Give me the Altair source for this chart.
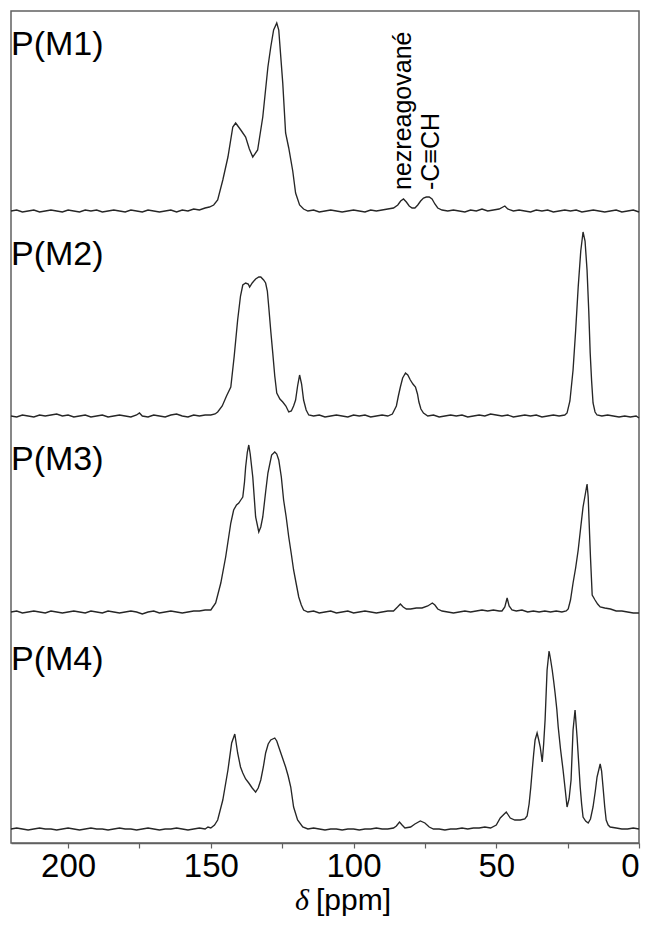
import altair as alt
import pandas as pd

# ---------------- data ----------------
NAMES = ["P(M1)", "P(M2)", "P(M3)", "P(M4)"]
OFFSETS = [632, 427, 231, 14]          # vertical stacking offset of each trace
LABEL_Y = [788, 578, 373, 173]         # baseline height of each trace label
X_TICKS = [0, 25, 50, 75, 100, 125, 150, 175, 200]

ANNOT_TEXT = ["nezreagované", "-C≡CH"]
ANNOT_PPM = [82.8, 72.7]
ANNOT_Y = [653, 653]

# (ppm, intensity above own baseline)
M1 = [
    (220, 0), (218, 1), (216, -1), (214, 0), (212, 1), (210, -1), (208, 0), (206, 1),
    (204, 0), (202, -1), (200, 1), (198, 0), (196, -1), (194, 1), (192, 0), (190, 1),
    (188, -1), (186, 0), (184, 1), (182, 0), (180, -1), (178, 1), (176, 0), (174, -1),
    (172, 1), (170, 0), (168, -1), (166, 0), (164, 1), (162, -1), (160, 1), (158, 0),
    (156, 2), (154, 1), (152, 3), (150.5, 4),
    (149, 6), (147.6, 11), (145.8, 31), (144, 54), (142.3, 84), (141.3, 88), (139.5, 81),
    (137.8, 74), (136.5, 62), (135.3, 54), (133.6, 61), (131.8, 94), (130, 144), (129, 164),
    (128, 181), (126.9, 188), (126.2, 181), (124.8, 128), (123.8, 78), (122.7, 63),
    (121.3, 40), (120.3, 18), (118.9, 6), (117.5, 2),
    (116, 0), (114, 1), (112, -1), (110, 0), (108, 1), (106, 0), (104, -1), (102, 0),
    (100, 1), (98, 0), (96, -1), (94, 1), (92, 0), (90, 1), (88, 2), (86, 3), (84.5, 6),
    (83.5, 10), (82.5, 12), (81.5, 9), (80.5, 5), (79.5, 3), (78.5, 3), (77.5, 6),
    (76.5, 10), (75.5, 13), (74.5, 14), (73.5, 14), (72.5, 12), (71.5, 7), (70.5, 3),
    (69, 1), (67, 0), (65, 1), (63, 0), (61, -1), (59, 1), (57, 0), (55, 2), (53, 0),
    (51, 1), (49, 2), (47, 5), (46, 2), (44, 0), (42, 1), (40, 0), (38, -1), (36, 1),
    (34, 0), (32, 1), (30, -1), (28, 0), (26, 1), (24, 0), (22, 1), (20, -1), (18, 0),
    (16, 1), (14, 0), (12, -1), (10, 0), (8, 1), (6, -1), (4, 0), (2, 1), (0, -1),
]

M2 = [
    (220, 0), (218, -1), (216, 1), (214, 0), (212, -1), (210, 1), (208, 0), (206, 1),
    (204, 2), (202, 0), (200, 1), (198, -1), (196, 0), (194, 1), (192, -1), (190, 0),
    (188, 1), (186, -1), (184, 0), (182, 1), (180, 0), (178, -1), (176, 1), (175, 3),
    (174, 0), (172, -1), (170, 1), (168, 0), (166, -1), (164, 1), (162, 2), (160, 0),
    (158, -1), (156, 1), (154, 0), (152, 1), (150, 1),
    (148.5, 2), (147.6, 4), (146, 10), (144.5, 20), (143, 29), (141.8, 60), (140.6, 96),
    (139.6, 120), (138.8, 131), (137.8, 133), (136.9, 132), (136.4, 129), (135.5, 133),
    (134.3, 137), (133.2, 139), (132.5, 139), (131.5, 136), (130.8, 133), (130.2, 125),
    (129.7, 109), (129, 85), (128.3, 63), (127.6, 40), (126.9, 23), (125.8, 17),
    (124.8, 14), (123.7, 10), (122.7, 4), (121.8, 5), (121, 10), (120.3, 16), (119.6, 30),
    (118.9, 41), (118.2, 32), (117.5, 16), (116.6, 6), (115.7, 1),
    (114, 0), (112, 1), (110, -1), (108, 0), (106, 1), (104, 0), (102, -1), (100, 1),
    (98, 0), (96, 1), (94, -1), (92, 0), (90, 1), (88, 0),
    (86.4, 2), (85, 10), (84.3, 20), (83.6, 29), (82.8, 38), (81.8, 43), (81, 41),
    (80.1, 36), (79.2, 32), (78.3, 29), (77.6, 22), (77.1, 14), (76.4, 7), (75.5, 3),
    (74, 0), (72, 1), (70, -1), (68, 0), (66, 1), (64, 0), (62, 1), (60, -1), (58, 0),
    (56, 1), (54, 0), (52, 2), (50, 1), (48, 0), (46, 1), (44, -1), (42, 0), (40, 1),
    (38, 0), (36, 1), (34, -1), (32, 0), (30, 1), (28, 0), (26, 1),
    (25.2, 3), (24.2, 15), (23.1, 46), (22.2, 85), (21.3, 129), (20.4, 165), (19.6, 184),
    (18.9, 175), (18.2, 146), (17.6, 105), (17.1, 63), (16.6, 35), (16.1, 13), (15.4, 4),
    (14.7, 1), (13, 0), (11, 1), (9, 0), (7, -1), (5, 0), (3, -1), (1, 0), (0, -2),
]

M3 = [
    (220, 0), (218, 1), (216, -1), (214, 0), (212, 1), (210, 0), (208, -1), (206, 1),
    (204, 0), (202, -1), (200, 0), (198, 1), (196, 0), (194, -1), (192, 1), (190, 0),
    (188, -1), (186, 1), (184, 0), (182, -1), (180, 0), (178, 1), (176, 0), (174, -2),
    (172, 0), (170, 1), (168, -1), (166, 0), (164, 1), (162, 0), (160, -1), (158, 0),
    (156, 1), (154, 1), (152, 2),
    (150, 2), (148.3, 9), (146.5, 29), (144.8, 55), (143, 89), (142, 102), (141, 107),
    (140.2, 109), (139.5, 112), (138.8, 115), (138.2, 130), (137.8, 145), (137.2, 160),
    (136.7, 167), (136.2, 158), (135.3, 135), (134.3, 95), (133.2, 80), (132.5, 85),
    (131.8, 95), (130.8, 120), (130, 139), (128.7, 157), (127.6, 160), (126.9, 158),
    (126.2, 152), (125.3, 135), (124.5, 112), (123.6, 95), (122.7, 75), (121.8, 58),
    (121, 42), (120, 27), (119.2, 15), (118.3, 7), (117.5, 2),
    (116, 0), (114, 1), (112, -1), (110, 0), (108, 1), (106, -1), (104, 0), (102, 1),
    (100, -1), (98, 0), (96, 1), (94, 0), (92, -1), (90, 0), (88, 1), (86, 1),
    (84.6, 5), (83.6, 8), (82.6, 5), (81.5, 3), (80, 3), (78, 4), (76, 4), (74, 6),
    (72.4, 9), (71.5, 7), (70.5, 3), (69, 1), (67, 0), (65, -1), (63, 0), (61, 1),
    (59, 0), (57, 1), (55, 2), (53, 1), (51, 2), (49, 1), (48, 1), (47, 5), (46.2, 14),
    (45.5, 6), (44.5, 2), (43, 1), (41, 2), (39, 0), (37, 1), (35, 0), (33, 1), (31, 0),
    (29, 1), (27, 0), (25.5, 1),
    (24.8, 3), (24, 12), (23.1, 29), (22.2, 44), (21.3, 62), (20.4, 85), (19.6, 105),
    (18.8, 118), (18.2, 128), (17.8, 115), (17.5, 92), (17, 55), (16.4, 17), (15.4, 12),
    (14.5, 8), (13.6, 5), (12, 4), (10, 3), (8, 1), (6, 1), (4, 0), (2, -1), (0, -1),
]

M4 = [
    (220, 0), (218, 1), (216, 0), (214, -1), (212, 0), (210, 1), (208, 0), (206, 0),
    (204, -1), (202, 0), (200, 1), (198, 0), (196, -1), (194, 0), (192, 1), (190, 0),
    (188, 0), (186, -1), (184, 0), (182, 1), (180, 0), (178, 0), (176, -1), (174, 0),
    (172, 1), (170, 0), (168, -1), (166, 0), (164, 0), (162, 1), (160, 0), (158, -1),
    (156, 0), (154, 1), (152, 0),
    (151, 2), (150, 1), (148.7, 4), (147.6, 9), (145.8, 29), (144, 59), (142.7, 86),
    (141.6, 95), (140.6, 76), (139.6, 62), (138.8, 56), (137.8, 50), (136.7, 46),
    (135.5, 41), (134.3, 37), (133.4, 41), (132.5, 49), (131.6, 62), (130.8, 76),
    (129.9, 85), (129, 89), (127.6, 91), (126.9, 88), (126.2, 82), (125, 72), (123.8, 62),
    (122.9, 53), (122, 42), (121, 22), (119.6, 9), (117.8, 2), (116, 0),
    (114, 1), (112, 0), (110, -1), (108, 0), (106, 0), (104, -1), (102, 0), (100, 0),
    (98, -1), (96, 0), (94, 0), (92, 1), (90, 0), (88, 0), (86, 1),
    (85, 3), (83.9, 7), (83, 4), (82, 1), (80, 2), (78.5, 5), (76.6, 8), (75, 6),
    (73.5, 2), (72, 0), (70, 0), (68, -1), (66, 0), (64, 0), (62, 1), (60, 0), (58, 1),
    (56, 1), (54, 2), (52, 1), (50, 4), (48.6, 11), (47.2, 15), (46.5, 17), (45.8, 14),
    (45.1, 11), (43.5, 9), (41.6, 9), (40, 10), (39.2, 13), (38.5, 25), (37.9, 42),
    (37.4, 59), (36.9, 75), (36.4, 89), (35.7, 96), (35.2, 90), (34.6, 82), (33.9, 67),
    (33.4, 85), (32.9, 109), (32.2, 159), (31.5, 178), (31, 170), (30.4, 159),
    (29.9, 148), (29.4, 136), (28.8, 120), (28.3, 102), (27.5, 80), (26.6, 59),
    (25.8, 38), (25.2, 22), (24.5, 30), (23.8, 49), (23.1, 99), (22.4, 119), (21.7, 92),
    (21.1, 65), (20.6, 42), (20.1, 25), (19.6, 12), (18.7, 8), (17.8, 6), (17, 10),
    (16.1, 22), (15.3, 38), (14.7, 52), (13.6, 65), (13.1, 58), (12.6, 42), (12, 22),
    (11.5, 9), (10.8, 4), (10.1, 2), (8, 1), (6, 0), (4, 0), (2, 1), (0, 0),
]

SPECTRA = [M1, M2, M3, M4]

# ---------------- tables ----------------
rows = []
for name, off, spec in zip(NAMES, OFFSETS, SPECTRA):
    for i, (p, v) in enumerate(spec):
        rows.append({"series": name, "ppm": p, "y": off + v, "order": i})
df = pd.DataFrame(rows)

lab_df = pd.DataFrame({"name": NAMES, "ppm": [220] * len(NAMES), "y": LABEL_Y})
ann_df = pd.DataFrame({"text": ANNOT_TEXT, "ppm": ANNOT_PPM, "y": ANNOT_Y})
one = pd.DataFrame({"k": [0]})

FRAME = "#606060"
x_scale = alt.Scale(domain=[0, 220], reverse=True, nice=False, zero=False)
y_scale = alt.Scale(domain=[0, 832], nice=False, zero=False)

lines = alt.Chart(df).mark_line(color="#262626", strokeWidth=1.35).encode(
    x=alt.X("ppm:Q", scale=x_scale, title=None,
            axis=alt.Axis(values=X_TICKS,
                          labelExpr="datum.value % 50 === 0 ? datum.label : ''",
                          format="d")),
    y=alt.Y("y:Q", scale=y_scale, axis=None),
    detail="series:N",
    order="order:Q",
)

labels = alt.Chart(lab_df).mark_text(
    align="left", baseline="alphabetic", fontSize=34,
    font="Liberation Sans", color="black"
).encode(
    x=alt.X("ppm:Q", scale=x_scale),
    y=alt.Y("y:Q", scale=y_scale),
    text="name:N",
)

ann = alt.Chart(ann_df).mark_text(
    angle=270, align="left", baseline="middle", fontSize=25,
    font="Liberation Sans", color="black"
).encode(
    x=alt.X("ppm:Q", scale=x_scale),
    y=alt.Y("y:Q", scale=y_scale),
    text="text:N",
)

delta = alt.Chart(one).mark_text(
    text="δ", align="left", baseline="alphabetic", fontSize=30,
    font="Liberation Serif", fontStyle="italic", color="black"
).encode(x=alt.value(284), y=alt.value(899))

ppm_t = alt.Chart(one).mark_text(
    text="[ppm]", align="left", baseline="alphabetic", fontSize=30,
    font="Liberation Sans", color="black"
).encode(x=alt.value(305), y=alt.value(899))

chart = alt.layer(lines, labels, ann, delta, ppm_t).properties(
    width=628, height=832,
    autosize=alt.AutoSizeParams(type="none"),
    padding={"left": 3, "top": 3, "right": 2, "bottom": 73},
).configure_view(
    stroke=FRAME, strokeWidth=1.5
).configure_axis(
    grid=False, domainColor=FRAME, domainWidth=1.5, tickColor=FRAME,
    tickSize=5, tickWidth=1.2, labelFontSize=33, labelFont="Liberation Sans",
    labelColor="black", labelPadding=2, labelFlush=True,
)

chart.save("out.html", embed_options={"renderer": "svg", "actions": False})
